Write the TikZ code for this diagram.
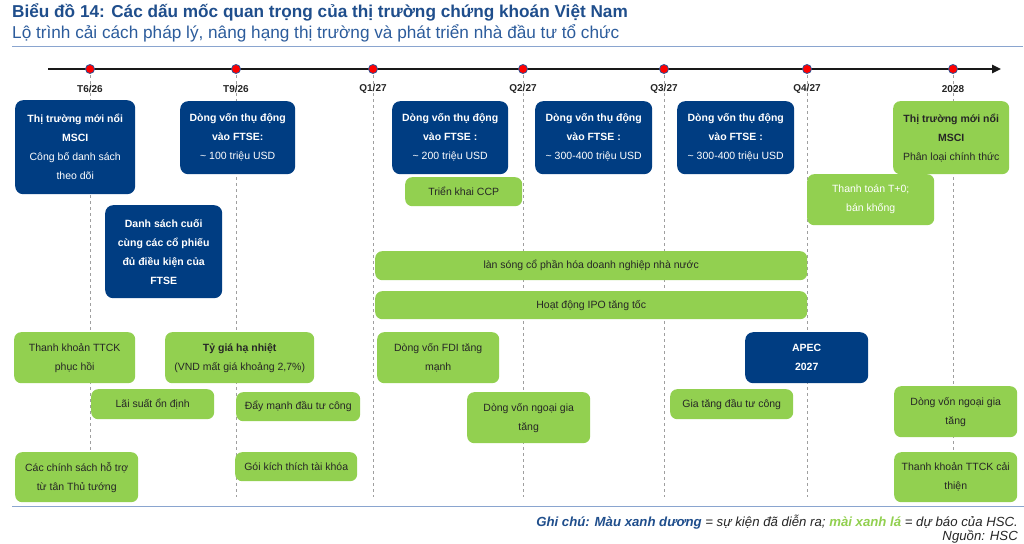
\documentclass[tikz,border=0pt]{standalone}
\usepackage{fontspec}
\setmainfont{Liberation Sans}
\usetikzlibrary{arrows.meta}
\definecolor{navy}{HTML}{003D82}
\definecolor{lgreen}{HTML}{92D050}
\definecolor{titleblue}{HTML}{1F4E8C}
\definecolor{subblue}{HTML}{2C5C9C}
\definecolor{rulecol}{HTML}{8AA5CF}
\definecolor{dottext}{HTML}{262626}
\definecolor{dotblue}{HTML}{2F5597}
\newcommand{\boxat}[7]{%
  \node[#1, anchor=north west, minimum width={(#5-#3)*1pt}, minimum height={(#6-#4)*1pt}] (#2) at (#3,-#4) {#7};}
\tikzset{
  bluebox/.style={fill=navy, rounded corners=8pt, text=white, align=center, inner sep=0pt,
    font=\fontsize{10.5}{19}\selectfont},
  greenbox/.style={fill=lgreen, rounded corners=7pt, text=dottext, align=center, inner sep=0pt,
    font=\fontsize{10.5}{19}\selectfont},
  tdot/.style={circle, fill=red, draw=dotblue, line width=0.8pt, minimum size=9pt, inner sep=0pt},
  tlabel/.style={font=\bfseries\fontsize{10}{11}\selectfont, text=dottext, inner sep=0pt},
  vdash/.style={draw=gray!75, line width=0.9pt, dash pattern=on 3pt off 3pt},
  hrule/.style={draw=rulecol, line width=1.2pt},
}
\begin{document}
\begin{tikzpicture}[x=1pt,y=1pt]
\useasboundingbox (0,0) rectangle (1024,-543);
\fill[white] (0,0) rectangle (1024,-543);
% titles
\node[anchor=base west, inner sep=0pt, text=titleblue, font=\bfseries\fontsize{17.2}{19}\selectfont] (title) at (12,-17.5) {Biểu đồ 14: Các dấu mốc quan trọng của thị trường chứng khoán Việt Nam};
\node[anchor=base west, inner sep=0pt, text=subblue, font=\fontsize{17.2}{19}\selectfont] (subtitle) at (12,-39) {Lộ trình cải cách pháp lý, nâng hạng thị trường và phát triển nhà đầu tư tổ chức};
\coordinate (r1a) at (12,-46.5); \coordinate (r1b) at (1023,-46.5);
\draw[hrule] (r1a) -- (r1b);
\coordinate (r2a) at (12,-506.5); \coordinate (r2b) at (1024,-506.5);
\draw[hrule] (r2a) -- (r2b);
% timeline
\coordinate (tls) at (48,-69); \coordinate (tle) at (1001,-69);
\foreach \n/\x in {1/90, 2/236, 3/373, 4/523, 5/664, 6/807, 7/953}{
  \coordinate (e\n) at (\x,-497);
  \draw[vdash] (\x,-69) -- (e\n);
}
\draw[line width=2.6pt, draw=black!90, -{Triangle[length=9pt,width=8pt]}] (tls) -- (tle);
\foreach \n/\x/\lab in {1/90/{T6/26}, 2/236/{T9/26}, 3/373/{Q1/27}, 4/523/{Q2/27}, 5/664/{Q3/27}, 6/807/{Q4/27}, 7/953/{2028}}{
  \node[tdot] (d\n) at (\x,-69) {};
  \node[tlabel] (l\n) at (\x,-89) {\lab};
}
% blue boxes
\boxat{bluebox}{b1}{15}{100}{135}{194}{\textbf{Thị trường mới nổi}\\\textbf{MSCI}\\Công bố danh sách\\theo dõi}
\boxat{bluebox}{b2}{180}{101}{295}{174}{\textbf{Dòng vốn thụ động}\\\textbf{vào FTSE:}\\\textasciitilde{} 100 triệu USD}
\boxat{bluebox}{b3}{392}{101}{508}{174}{\textbf{Dòng vốn thụ động}\\\textbf{vào FTSE :}\\\textasciitilde{} 200 triệu USD}
\boxat{bluebox}{b4}{535}{101}{652}{174}{\textbf{Dòng vốn thụ động}\\\textbf{vào FTSE :}\\\textasciitilde{} 300-400 triệu USD}
\boxat{bluebox}{b5}{677}{101}{794}{174}{\textbf{Dòng vốn thụ động}\\\textbf{vào FTSE :}\\\textasciitilde{} 300-400 triệu USD}
\boxat{bluebox}{b6}{105}{205}{222}{298}{\textbf{Danh sách cuối}\\\textbf{cùng các cổ phiếu}\\\textbf{đủ điều kiện của}\\\textbf{FTSE}}
\boxat{bluebox}{b7}{745}{332}{868}{383}{\textbf{APEC}\\\textbf{2027}}
% green boxes
\boxat{greenbox}{g1}{893}{101}{1009}{174}{\textbf{Thị trường mới nổi}\\\textbf{MSCI}\\Phân loại chính thức}
\boxat{greenbox}{g2}{405}{177}{522}{206}{Triển khai CCP}
\boxat{greenbox, text=white}{g3}{807}{174}{934}{225}{Thanh toán T+0;\\bán khống}
\boxat{greenbox}{g4}{375}{251}{807}{280}{làn sóng cổ phần hóa doanh nghiệp nhà nước}
\boxat{greenbox}{g5}{375}{291}{807}{319}{Hoạt động IPO tăng tốc}
\boxat{greenbox}{g6}{14}{332}{135}{383}{Thanh khoản TTCK\\phục hồi}
\boxat{greenbox}{g7}{165}{332}{314}{383}{\textbf{Tỷ giá hạ nhiệt}\\(VND mất giá khoảng 2,7\%)}
\boxat{greenbox}{g8}{91}{389}{214}{419}{Lãi suất ổn định}
\boxat{greenbox}{g9}{236}{392}{360}{421}{Đẩy mạnh đầu tư công}
\boxat{greenbox}{g10}{15}{452}{138}{502}{Các chính sách hỗ trợ\\từ tân Thủ tướng}
\boxat{greenbox}{g11}{235}{452}{357}{481}{Gói kích thích tài khóa}
\boxat{greenbox}{g12}{377}{332}{499}{383}{Dòng vốn FDI tăng\\mạnh}
\boxat{greenbox}{g13}{467}{392}{590}{443}{Dòng vốn ngoại gia\\tăng}
\boxat{greenbox}{g14}{670}{389}{793}{419}{Gia tăng đầu tư công}
\boxat{greenbox}{g15}{894}{386}{1017}{437}{Dòng vốn ngoại gia\\tăng}
\boxat{greenbox}{g16}{894}{452}{1017}{502}{Thanh khoản TTCK cải\\thiện}
% note
\node[anchor=base east, inner sep=0pt, font=\itshape\fontsize{13.2}{15}\selectfont, text=dottext] (note) at (1018,-526)
  {\textbf{\textcolor{titleblue}{Ghi chú: Màu xanh dương}} = sự kiện đã diễn ra; \textbf{\textcolor{lgreen}{mài xanh lá}} = dự báo của HSC.};
\node[anchor=base east, inner sep=0pt, font=\itshape\fontsize{13.2}{15}\selectfont, text=dottext] (src) at (1018,-540) {Nguồn: HSC};
\end{tikzpicture}
\end{document}
